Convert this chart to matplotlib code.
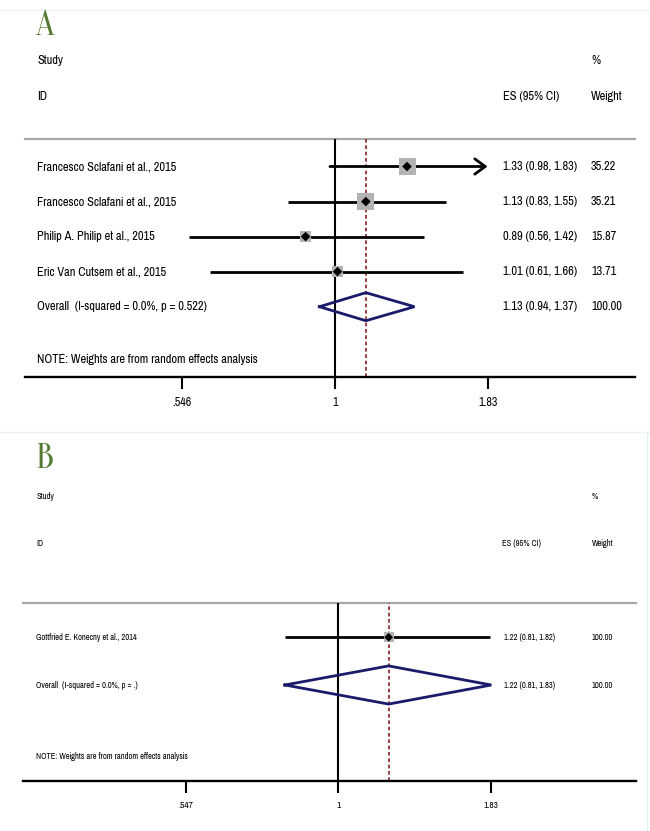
import numpy as np
import matplotlib
matplotlib.use("Agg")
import matplotlib.pyplot as plt
from matplotlib.lines import Line2D
from matplotlib.textpath import TextPath
from matplotlib.font_manager import FontProperties

# ---------------- data ----------------
# Panel A
studies_a = ["Francesco Sclafani et al., 2015",
             "Francesco Sclafani et al., 2015",
             "Philip A. Philip et al., 2015",
             "Eric Van Cutsem et al., 2015"]
es_a = [1.33, 1.13, 0.89, 1.01]
lo_a = [0.98, 0.83, 0.56, 0.61]
hi_a = [1.83, 1.55, 1.42, 1.66]
wt_a = [35.22, 35.21, 15.87, 13.71]
arrow_a = [True, False, False, False]
overall_label_a = "Overall  (I-squared = 0.0%, p = 0.522)"
overall_a = (1.13, 0.94, 1.37)
ticks_a = [0.546, 1, 1.83]
ticklabels_a = [".546", "1", "1.83"]

# Panel B
studies_b = ["Gottfried E. Konecny et al., 2014"]
es_b = [1.22]
lo_b = [0.81]
hi_b = [1.82]
wt_b = [100.00]
arrow_b = [False]
overall_label_b = "Overall  (I-squared = 0.0%, p = .)"
overall_b = (1.22, 0.81, 1.83)
ticks_b = [0.547, 1, 1.83]
ticklabels_b = [".547", "1", "1.83"]

note = "NOTE: Weights are from random effects analysis"

# ---------------- style ----------------
W, H = 650, 831
FONT = ["Liberation Sans Narrow", "Arial Narrow", "Pragati Narrow", "Archivo Narrow",
        "PT Sans Narrow", "Roboto Condensed", "Liberation Sans", "DejaVu Sans"]
LETTER_FONT = ["Oranienbaum", "Stint Ultra Condensed", "Liberation Serif", "DejaVu Serif"]
GREEN = "#557a36"
NAVY = "#1b1b6b"
RED = "#8b1c24"
GRAY_BOX = "#b3b3b3"
GRAY_LINE = "#a8a8a8"


def fit_size(text, target_px, family):
    """font size (pt) so that text is target_px wide at 100 dpi"""
    tp = TextPath((0, 0), text, size=10, prop=FontProperties(family=family))
    ext = tp.get_extents()
    return 10 * target_px / (ext.width * 100 / 72)


fig = plt.figure(figsize=(W / 100, H / 100), dpi=100)
fig.patch.set_facecolor("white")

# faint frame lines of the two images
for yy in (10, 432):
    fig.add_artist(Line2D([0, 1], [1 - yy / H, 1 - yy / H], transform=fig.transFigure,
                          color="#edf1f1", lw=1))
fig.add_artist(Line2D([647 / W, 647 / W], [1 - 432 / H, 0], transform=fig.transFigure,
                      color="#e4f0f0", lw=1))


def panel(letter, studies, es, lo, hi, wt, arrows, ov_label, ov, ticks, ticklabels,
          box_left, box_right, box_top, box_bot, xlim, row0, rowstep,
          fs, px_study, px_es_head, px_es, px_wt, y_study, y_id, y_letter_base,
          box_k, tick_fs, dot_s):
    ax = fig.add_axes([box_left / W, 1 - box_bot / H,
                       (box_right - box_left) / W, (box_bot - box_top) / H])
    ax.set_xscale("log")
    ax.set_xlim(*xlim)
    top = (box_top - row0) / rowstep
    bot = (box_bot - row0) / rowstep
    ax.set_ylim(bot, top)
    for s in ("top", "left", "right"):
        ax.spines[s].set_visible(False)
    ax.spines["bottom"].set_linewidth(1.7)
    ax.set_yticks([])
    ax.set_xticks(ticks)
    ax.set_xticklabels(ticklabels, fontfamily=FONT, fontsize=tick_fs)
    ax.xaxis.set_minor_locator(matplotlib.ticker.NullLocator())
    ax.tick_params(axis="x", length=8.5, width=1.5, pad=6, direction="out")

    # separator line and reference lines
    ax.axhline(top, color=GRAY_LINE, lw=1.6, clip_on=False)
    ax.axvline(1, color="black", lw=1.5, zorder=2)
    ax.axvline(ov[0], color=RED, lw=1.2, ls=(0, (2.2, 1.6)), zorder=2)

    def fx(px):
        return (px - box_left) / (box_right - box_left)
    tr = matplotlib.transforms.blended_transform_factory(ax.transAxes, ax.transData)

    def put(px, y, s):
        ax.text(fx(px), y, s, transform=tr, fontfamily=FONT, fontsize=fs,
                va="center", ha="left", clip_on=False)

    for i in range(len(studies)):
        if arrows[i]:
            ax.annotate("", xy=(hi[i], i), xytext=(lo[i], i),
                        arrowprops=dict(arrowstyle="->,head_length=0.75,head_width=0.55",
                                        lw=2.0, color="black", shrinkA=0, shrinkB=0),
                        zorder=3)
        else:
            ax.hlines(i, lo[i], hi[i], color="black", lw=2.0, zorder=3)
        side_pt = box_k * np.sqrt(wt[i]) * 0.72
        ax.scatter([es[i]], [i], marker="s", s=side_pt ** 2, color=GRAY_BOX,
                   edgecolors="none", zorder=4)
        ax.scatter([es[i]], [i], marker="D", s=dot_s, color="black",
                   edgecolors="none", zorder=5)
        put(px_study, i, studies[i])
        put(px_es, i, f"{es[i]:.2f} ({lo[i]:.2f}, {hi[i]:.2f})")
        put(px_wt, i, f"{wt[i]:.2f}")

    # overall diamond
    yo = len(studies)
    e, l, h = ov
    dh = 0.4
    ax.plot([l, e, h, e, l], [yo, yo - dh, yo, yo + dh, yo], color=NAVY, lw=2.0,
            solid_joinstyle="miter", zorder=4)
    put(px_study, yo, ov_label)
    put(px_es, yo, f"{e:.2f} ({l:.2f}, {h:.2f})")
    put(px_wt, yo, "100.00")

    # note
    put(px_study, yo + 1.5, note)

    # headers
    yS = (y_study - row0) / rowstep
    yI = (y_id - row0) / rowstep
    put(px_study, yS, "Study")
    put(px_wt, yS, "%")
    put(px_study, yI, "ID")
    put(px_es_head, yI, "ES (95% CI)")
    put(px_wt, yI, "Weight")

    # panel letter
    fig.text(35 / W, 1 - y_letter_base / H, letter, fontfamily=LETTER_FONT,
             fontsize=letter_fs, color=GREEN, ha="left", va="baseline")
    return ax


fs_a = fit_size(studies_a[0], 138, FONT)
fs_b = fit_size(studies_b[0], 100, FONT)
tfs_a = fit_size(ticklabels_a[0], 18, FONT)
tfs_b = fit_size(ticklabels_b[0], 14, FONT)
# letter: cap height ~25 px
_cap = TextPath((0, 0), "A", size=10, prop=FontProperties(family=LETTER_FONT)).get_extents().height
letter_fs = 10 * 25 / (_cap * 100 / 72)

panel("A", studies_a, es_a, lo_a, hi_a, wt_a, arrow_a, overall_label_a, overall_a,
      ticks_a, ticklabels_a,
      box_left=25, box_right=635, box_top=139, box_bot=377,
      xlim=(0.2928, 3.282), row0=166.5, rowstep=35.05,
      fs=fs_a, px_study=37, px_es_head=503, px_es=503, px_wt=591,
      y_study=61, y_id=97, y_letter_base=35, box_k=2.865, tick_fs=tfs_a, dot_s=24)

panel("B", studies_b, es_b, lo_b, hi_b, wt_b, arrow_b, overall_label_b, overall_b,
      ticks_b, ticklabels_b,
      box_left=23, box_right=636, box_top=602.7, box_bot=780.7,
      xlim=(0.2879, 3.2406), row0=637.3, rowstep=47.7,
      fs=fs_b, px_study=36.5, px_es_head=502, px_es=504, px_wt=592,
      y_study=496, y_id=543, y_letter_base=468, box_k=1.0, tick_fs=tfs_b, dot_s=20)

fig.savefig("out.png", dpi=100, facecolor="white")
